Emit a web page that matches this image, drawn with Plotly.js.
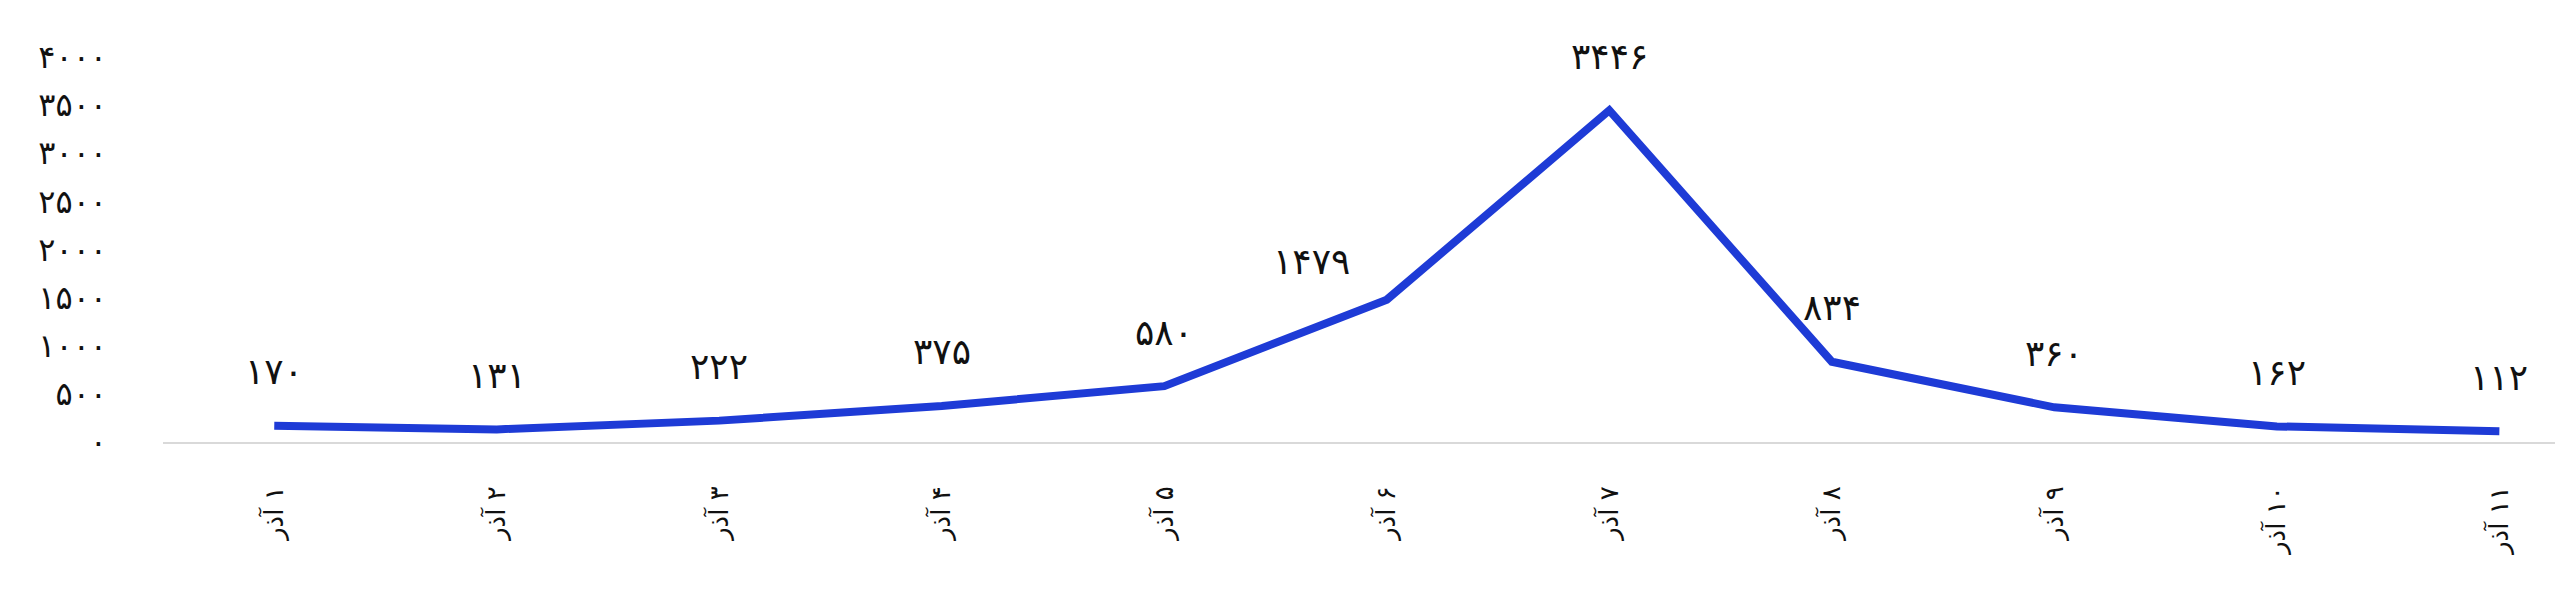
<!DOCTYPE html>
<html>
<head>
<meta charset="utf-8">
<script src="https://cdn.plot.ly/plotly-3.0.1.min.js"></script>
<style>
  body { margin: 0; background: #fff; }
  #chart { width: 2560px; height: 591px; }
</style>
</head>
<body>
<div id="chart"></div>
<script>
const days = ["۱ آذر", "۲ آذر", "۳ آذر", "۴ آذر", "۵ آذر", "۶ آذر", "۷ آذر", "۸ آذر", "۹ آذر", "۱۰ آذر", "۱۱ آذر"];
const cases = [170, 131, 222, 375, 580, 1479, 3446, 834, 360, 162, 112];
const yTickVals = [0, 500, 1000, 1500, 2000, 2500, 3000, 3500, 4000];
const yTickText = ["۰", "۵۰۰", "۱۰۰۰", "۱۵۰۰", "۲۰۰۰", "۲۵۰۰", "۳۰۰۰", "۳۵۰۰", "۴۰۰۰"];

const faDigits = "۰۱۲۳۴۵۶۷۸۹";
const toFa = (n) => String(n).replace(/[0-9]/g, (d) => faDigits[+d]);

// RLM keeps the day number on the right of the word, like the original
const xCats = days.map((d) => "\u200F" + d);
const font = "DejaVu Sans, Noto Sans, sans-serif";

const trace = {
  type: "scatter",
  mode: "lines",
  x: xCats,
  y: cases,
  line: { color: "#1e3bd6", width: 8 },
  hoverinfo: "skip",
};

// value labels sit above each point; the 1479 one is nudged left off the line
const annotations = cases.map((v, i) => ({
  x: xCats[i],
  y: v,
  text: toFa(v),
  showarrow: false,
  xanchor: "center",
  yanchor: "middle",
  xshift: i === 5 ? -75 : 0,
  yshift: i === 5 ? 38 : 54,
  font: { family: font, size: 36, color: "#111" },
}));

Plotly.newPlot(
  "chart",
  [trace],
  {
    width: 2560,
    height: 591,
    margin: { l: 163, r: 5, t: 57, b: 149, pad: 0 },
    paper_bgcolor: "#fff",
    plot_bgcolor: "#fff",
    showlegend: false,
    font: { family: font, color: "#111" },
    xaxis: {
      type: "category",
      range: [-0.5, 10.25],
      showgrid: false,
      zeroline: false,
      showline: true,
      linecolor: "#d9d9d9",
      linewidth: 2,
      ticks: "",
      tickangle: -90,
      ticklabelstandoff: 32,
      tickfont: { family: font, size: 26, color: "#111" },
    },
    yaxis: {
      range: [0, 4000],
      showgrid: false,
      zeroline: false,
      showline: false,
      ticks: "",
      tickvals: yTickVals,
      ticktext: yTickText,
      ticklabelstandoff: 55,
      tickfont: { family: font, size: 32, color: "#111" },
    },
    annotations: annotations,
  },
  { staticPlot: true, displayModeBar: false }
);
</script>
</body>
</html>
